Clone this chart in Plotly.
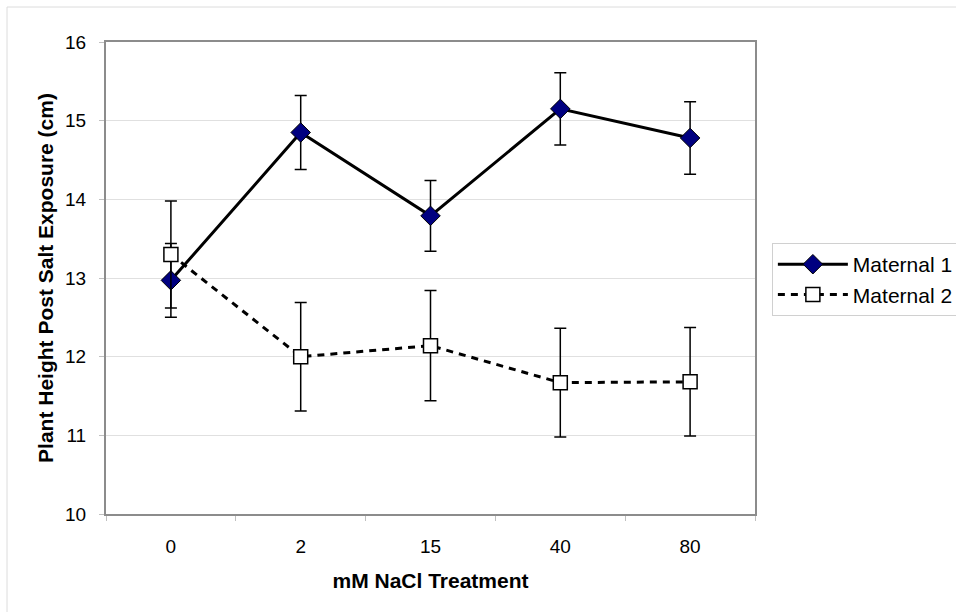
import plotly.graph_objects as go

categories = ["0", "2", "15", "40", "80"]
maternal1 = [12.97, 14.85, 13.79, 15.15, 14.78]
maternal1_err = [0.47, 0.47, 0.45, 0.46, 0.46]
maternal2 = [13.30, 12.00, 12.14, 11.67, 11.68]
maternal2_err = [0.68, 0.69, 0.70, 0.69, 0.69]

FONT = "Liberation Sans, Arial, sans-serif"

fig = go.Figure()
fig.add_trace(go.Scatter(
    x=categories, y=maternal1, name="Maternal 1", mode="lines+markers",
    line=dict(color="black", width=3),
    marker=dict(symbol="diamond", size=15, color="#000080", line=dict(color="black", width=1)),
    error_y=dict(type="data", array=maternal1_err, visible=True, color="black", thickness=1.5, width=6),
))
fig.add_trace(go.Scatter(
    x=categories, y=maternal2, name="Maternal 2", mode="lines+markers",
    line=dict(color="black", width=3, dash="7px,6px"),
    marker=dict(symbol="square", size=14, color="white", line=dict(color="black", width=1.5)),
    error_y=dict(type="data", array=maternal2_err, visible=True, color="black", thickness=1.5, width=6),
))

fig.update_layout(
    width=956, height=612,
    margin=dict(l=106, r=201, t=42, b=98, autoexpand=False),
    paper_bgcolor="white", plot_bgcolor="white",
    font=dict(family=FONT, color="black", size=19),
    showlegend=True,
    legend=dict(
        x=1.026, y=0.574, xanchor="left", yanchor="top",
        bordercolor="#d0d0d0", borderwidth=1, bgcolor="white",
        font=dict(size=21, family=FONT), tracegroupgap=0, itemwidth=70,
    ),
    xaxis=dict(
        type="category", range=[-0.5, 4.5], showgrid=False, showline=True, mirror=True,
        linecolor="#8c8c8c", linewidth=2, ticks="outside", tickson="boundaries",
        ticklen=5, tickcolor="#c0c0c0", ticklabelstandoff=14,
        title=dict(text="<b>mM NaCl Treatment</b>", font=dict(size=21), standoff=18),
        tickfont=dict(size=19),
    ),
    yaxis=dict(
        range=[10, 16], dtick=1, showgrid=True, gridcolor="#e0e0e0", gridwidth=1,
        showline=True, mirror=True, linecolor="#8c8c8c", linewidth=2,
        ticks="outside", ticklen=5, tickcolor="#c0c0c0", ticklabelstandoff=9,
        zeroline=False,
        title=dict(text="<b>Plant Height Post Salt Exposure (cm)</b>", font=dict(size=21), standoff=6),
        tickfont=dict(size=19),
    ),
    shapes=[dict(
        type="rect", xref="paper", yref="paper",
        x0=(7 - 106) / 649, x1=2.0, y0=-0.5, y1=(514 - 7) / 472,
        line=dict(color="#dcdcdc", width=1), fillcolor="rgba(0,0,0,0)", layer="below",
    )],
)

fig.write_html("out.html")
